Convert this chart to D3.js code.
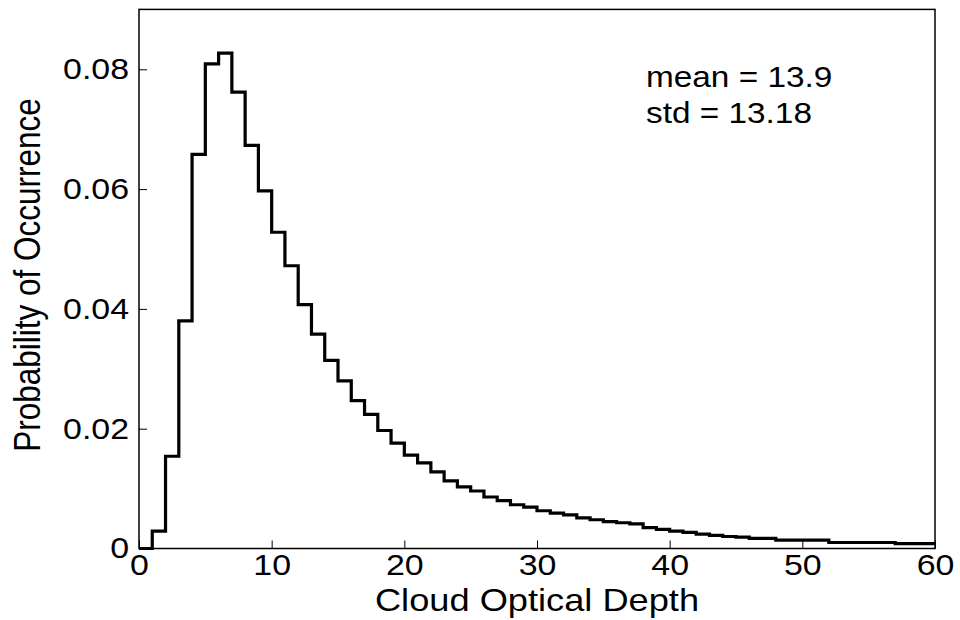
<!DOCTYPE html>
<html>
<head>
<meta charset="utf-8">
<script src="https://cdn.jsdelivr.net/npm/d3@7/dist/d3.min.js"></script>
<style>
  html, body { margin: 0; padding: 0; background: #fff; }
  svg { display: block; }
  text { font-family: "Liberation Sans", Arial, sans-serif; fill: #000; }
</style>
</head>
<body>
<svg id="chart" width="960" height="620"></svg>
<script>
// Histogram of cloud optical depth: unit-width bins from 0 to 60
const binStarts = d3.range(0, 60, 1);
const probability = [
  0.0000, 0.0029, 0.0154, 0.0380, 0.0658, 0.0809, 0.0827, 0.0762, 0.0673, 0.0597,
  0.0528, 0.0472, 0.0407, 0.0358, 0.0314, 0.0280, 0.0247, 0.0224, 0.0197, 0.0176,
  0.0156, 0.0143, 0.0128, 0.0113, 0.0103, 0.0096, 0.0086, 0.0080, 0.0073, 0.0069,
  0.0063, 0.0059, 0.0056, 0.0051, 0.0048, 0.0045, 0.0043, 0.0041, 0.0035, 0.0032,
  0.0029, 0.0027, 0.0024, 0.0022, 0.0020, 0.0019, 0.0017, 0.0017, 0.0014, 0.0014,
  0.0014, 0.0014, 0.0010, 0.0010, 0.0010, 0.0010, 0.0010, 0.0008, 0.0008, 0.0008
];
const xTicks = [0, 10, 20, 30, 40, 50, 60];
const yTicks = [0, 0.02, 0.04, 0.06, 0.08];
const xLabel = "Cloud Optical Depth";
const yLabel = "Probability of Occurrence";
const statsLines = ["mean = 13.9", "std = 13.18"];

const svg = d3.select("#chart");
const plot = { left: 139, right: 935, top: 9.4, bottom: 548.5 };
const tickFont = 29.5;
const titleFont = 31.5;
const statsFont = 29;
const stretch = 1.15;

const x = d3.scaleLinear().domain([0, 60]).range([plot.left, plot.right]);
const y = d3.scaleLinear().domain([0, 0.09]).range([plot.bottom, plot.top]);

// Axes with inward-pointing ticks
const xAxis = d3.axisBottom(x).tickValues(xTicks).tickFormat(d3.format("d"))
  .tickSizeInner(-8).tickSizeOuter(0).tickPadding(10);
const yAxis = d3.axisLeft(y).tickValues(yTicks).tickFormat(d => d === 0 ? "0" : d3.format(".2f")(d))
  .tickSizeInner(-8).tickSizeOuter(0).tickPadding(10);

const gx = svg.append("g").attr("transform", `translate(0,${plot.bottom})`).call(xAxis);
const gy = svg.append("g").attr("transform", `translate(${plot.left},0)`).call(yAxis);

[gx, gy].forEach(g => {
  g.select(".domain").remove();
  g.selectAll(".tick line").attr("stroke", "#000").attr("stroke-width", 1);
  g.selectAll(".tick text")
    .attr("font-family", "Liberation Sans, Arial, sans-serif")
    .attr("font-size", tickFont)
    .attr("fill", "#000");
});
gx.selectAll(".tick text").attr("dy", null).attr("y", 26.5)
  .attr("transform", `scale(${stretch},1)`);
gy.selectAll(".tick text")
  .attr("x", -10 / stretch)
  .attr("transform", `scale(${stretch},1)`);

// Step outline of the histogram
const pts = binStarts.map((b, i) => [b, probability[i]]);
pts.push([60, probability[probability.length - 1]]);
const line = d3.line()
  .x(d => x(d[0]))
  .y(d => y(d[1]))
  .curve(d3.curveStepAfter);

svg.append("path")
  .datum(pts)
  .attr("d", line)
  .attr("fill", "none")
  .attr("stroke", "#000")
  .attr("stroke-width", 3.2)
  .attr("stroke-linejoin", "miter");

// Axes box
svg.append("rect")
  .attr("x", plot.left).attr("y", plot.top)
  .attr("width", plot.right - plot.left).attr("height", plot.bottom - plot.top)
  .attr("fill", "none").attr("stroke", "#000").attr("stroke-width", 1.5);

// Axis titles
svg.append("text")
  .attr("transform", `translate(${(plot.left + plot.right) / 2},611) scale(${stretch},1)`)
  .attr("text-anchor", "middle")
  .attr("font-size", titleFont)
  .text(xLabel);

svg.append("text")
  .attr("transform", `translate(40,275) scale(${stretch},1) rotate(-90)`)
  .attr("text-anchor", "middle")
  .attr("font-size", titleFont)
  .text(yLabel);

// Summary statistics
statsLines.forEach((s, i) => {
  svg.append("text")
    .attr("transform", `translate(646,${87 + i * 35.5}) scale(${stretch},1)`)
    .attr("font-size", statsFont)
    .text(s);
});
</script>
</body>
</html>
